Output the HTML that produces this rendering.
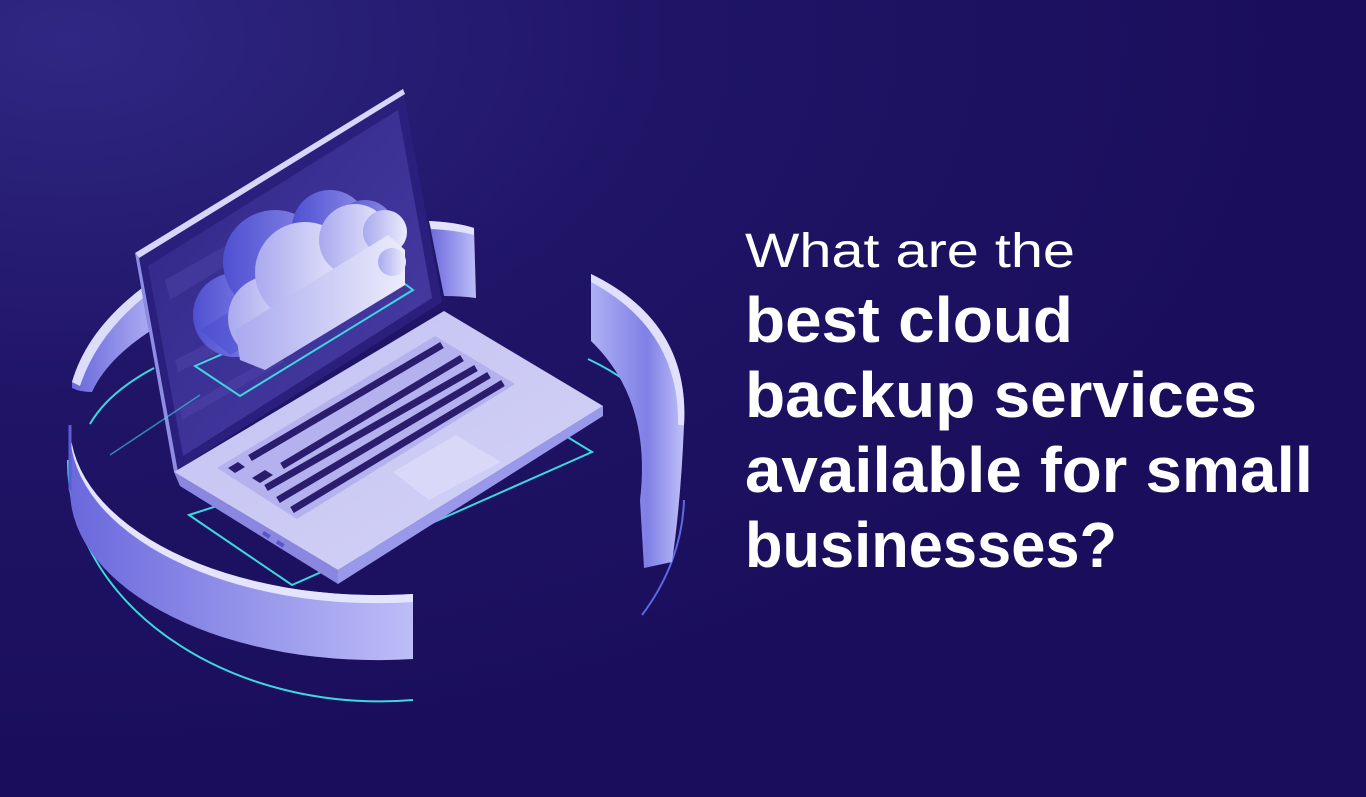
<!DOCTYPE html>
<html><head><meta charset="utf-8"><style>
html,body{margin:0;padding:0;width:1366px;height:797px;overflow:hidden;background:#1b0f5e}
svg{display:block}
</style></head><body>
<svg width="1366" height="797" viewBox="0 0 1366 797" xmlns="http://www.w3.org/2000/svg">
<defs>
<radialGradient id="bg" cx="0.05" cy="0.05" r="0.9">
<stop offset="0" stop-color="#2f2783"/><stop offset="0.5" stop-color="#1f1466"/><stop offset="1" stop-color="#1a0e5c"/>
</radialGradient>
<linearGradient id="wall" x1="0" y1="0" x2="1" y2="0">
<stop offset="0" stop-color="#6a68dc"/><stop offset="1" stop-color="#bdbdf8"/>
</linearGradient>
<linearGradient id="wallR" x1="0" y1="0" x2="1" y2="0">
<stop offset="0" stop-color="#aeb0f4"/><stop offset="0.6" stop-color="#7f7fe6"/><stop offset="1" stop-color="#bfc0f7"/>
</linearGradient>
<linearGradient id="cloud" x1="0" y1="0" x2="1" y2="0">
<stop offset="0" stop-color="#a9a9ef"/><stop offset="1" stop-color="#ececfc"/>
</linearGradient>
<linearGradient id="cloudB" x1="0" y1="0" x2="1" y2="0">
<stop offset="0" stop-color="#4f50d2"/><stop offset="1" stop-color="#8c8ce6"/>
</linearGradient>
<linearGradient id="screen" x1="0" y1="0" x2="1" y2="1">
<stop offset="0" stop-color="#2f2585"/><stop offset="1" stop-color="#4a3ea6"/>
</linearGradient>
<linearGradient id="top" x1="0" y1="0" x2="1" y2="1">
<stop offset="0" stop-color="#c3c1f1"/><stop offset="1" stop-color="#d4d3f7"/>
</linearGradient>
</defs>
<rect width="1366" height="797" fill="url(#bg)"/>

<!-- cyan orbit lines -->
<path d="M68,460 A312,240 0 0 0 413,700" fill="none" stroke="#3fd6e0" stroke-width="2"/>
<path d="M684,500 A312,240 0 0 1 642,615" fill="none" stroke="#5a6ae6" stroke-width="2"/>
<path d="M90,424 A300,140 0 0 1 154,368" fill="none" stroke="#3fd6e0" stroke-width="2"/>
<path d="M588,359 A300,140 0 0 1 672,440" fill="none" stroke="#3fd6e0" stroke-width="2"/>

<!-- back ring piece -->
<path d="M429,221 Q455,222 474,228 L476,298 Q460,296 444,296 Z" fill="url(#wall)"/>
<path d="M429,221 Q455,222 474,228 L474,235 Q455,230 431,229 Z" fill="#e2e2fc"/>

<!-- upper-left ring segment -->
<path d="M72,382 Q90,320 165,272 L172,318 Q110,352 92,392 Q80,392 72,388 Z" fill="url(#wall)"/>
<path d="M72,382 Q90,320 165,272 L167,280 Q100,325 80,386 Z" fill="#dcdcfb"/>

<!-- right ring segment -->
<path d="M591,274 Q690,322 684,425 Q681,500 672,562 L644,568 L640,500 Q652,400 591,341 Z" fill="url(#wallR)"/>
<path d="M591,274 Q690,322 684,425 L678,425 Q680,330 591,282 Z" fill="#e0e0fc"/>

<!-- cyan rect under laptop -->
<polygon points="189,515 292,585 592,452 520,408" fill="none" stroke="#3fd6e0" stroke-width="2"/>

<!-- laptop lid -->
<polygon points="135,253 403,89 442,302 174,472" fill="#2a1f7c"/>
<polygon points="135,253 403,89 405,94 139,258" fill="#d6d5fa"/>
<polygon points="135,253 139,258 178,472 174,472" fill="#8f8ce6"/>
<polygon points="148,266 398,110 432,298 183,456" fill="url(#screen)"/>
<!-- faint lines on screen -->
<polygon points="165,280 250,232 260,245 170,300" fill="#4a3fa4" opacity="0.6"/>
<polygon points="175,360 260,318 265,330 178,372" fill="#5044aa" opacity="0.5"/>
<polygon points="180,410 280,352 284,362 182,420" fill="#5044aa" opacity="0.5"/>

<!-- cyan rect under cloud -->
<polygon points="195,366 240,396 413,290 397,278" fill="none" stroke="#3fd6e0" stroke-width="2"/>
<line x1="110" y1="455" x2="200" y2="395" stroke="#3fd6e0" stroke-width="1.5" opacity="0.6"/>

<!-- cloud back (3D side) -->
<g fill="url(#cloudB)">
<circle cx="235" cy="315" r="42"/>
<circle cx="275" cy="262" r="52"/>
<circle cx="330" cy="228" r="38"/>
<circle cx="365" cy="230" r="30"/>
<polygon points="200,330 370,225 375,275 230,355"/>
</g>
<!-- cloud front -->
<g fill="url(#cloud)">
<circle cx="270" cy="318" r="42"/>
<circle cx="305" cy="272" r="50"/>
<circle cx="355" cy="240" r="36"/>
<circle cx="385" cy="232" r="22"/>
<polygon points="235,330 388,235 405,250 405,285 265,370 240,360"/>
<circle cx="392" cy="262" r="14"/>
</g>

<!-- laptop base -->
<polygon points="174,472 338,570 338,584 180,486" fill="#8b87e0"/>
<polygon points="338,570 603,406 603,416 338,584" fill="#9a98ea"/>
<polygon points="174,472 444,311 603,406 338,570" fill="url(#top)"/>
<polygon points="217,468 435,336 515,384 297,519" fill="#b4b1ee"/>
<g stroke="#2a1d6e" stroke-width="7" stroke-linecap="butt">
<line x1="250" y1="458" x2="442" y2="345"/>
<line x1="282" y1="466" x2="462" y2="358"/>
<line x1="266" y1="488" x2="476" y2="368"/>
<line x1="278" y1="500" x2="489" y2="375"/>
<line x1="292" y1="510" x2="503" y2="383"/>
</g>
<polygon points="228,468 238,462 245,467 235,473" fill="#2a1d6e"/>
<polygon points="252,478 265,470 273,475 260,483" fill="#2a1d6e"/>
<polygon points="393,472 456,435 501,462 429,500" fill="#d9d8f9"/>
<rect x="264" y="531" width="8" height="4" fill="#5a56c8" transform="rotate(32 264 531)"/>
<rect x="278" y="540" width="8" height="4" fill="#5a56c8" transform="rotate(32 278 540)"/>

<!-- big front-left ring segment -->
<path d="M70,425 A307,170 0 0 0 413,594 L413,659 A307,170 0 0 1 70,490 Z" fill="url(#wall)"/>
<path d="M70,425 A307,170 0 0 0 413,594 L413,602 A307,172 0 0 1 70,432 Z" fill="#e4e4fd"/>
<path d="M70,425 L70,490" stroke="#5d5bd6" stroke-width="3"/>

<!-- text -->
<g fill="#ffffff" font-family="'Liberation Sans', sans-serif">
<text x="745" y="267" font-size="48" textLength="330" lengthAdjust="spacingAndGlyphs">What are the</text>
<text x="745" y="342" font-size="64" font-weight="bold" textLength="328" lengthAdjust="spacingAndGlyphs">best cloud</text>
<text x="745" y="417" font-size="64" font-weight="bold" textLength="512" lengthAdjust="spacingAndGlyphs">backup services</text>
<text x="745" y="492" font-size="64" font-weight="bold" textLength="568" lengthAdjust="spacingAndGlyphs">available for small</text>
<text x="745" y="567" font-size="64" font-weight="bold" textLength="372" lengthAdjust="spacingAndGlyphs">businesses?</text>
</g>
</svg>
</body></html>
